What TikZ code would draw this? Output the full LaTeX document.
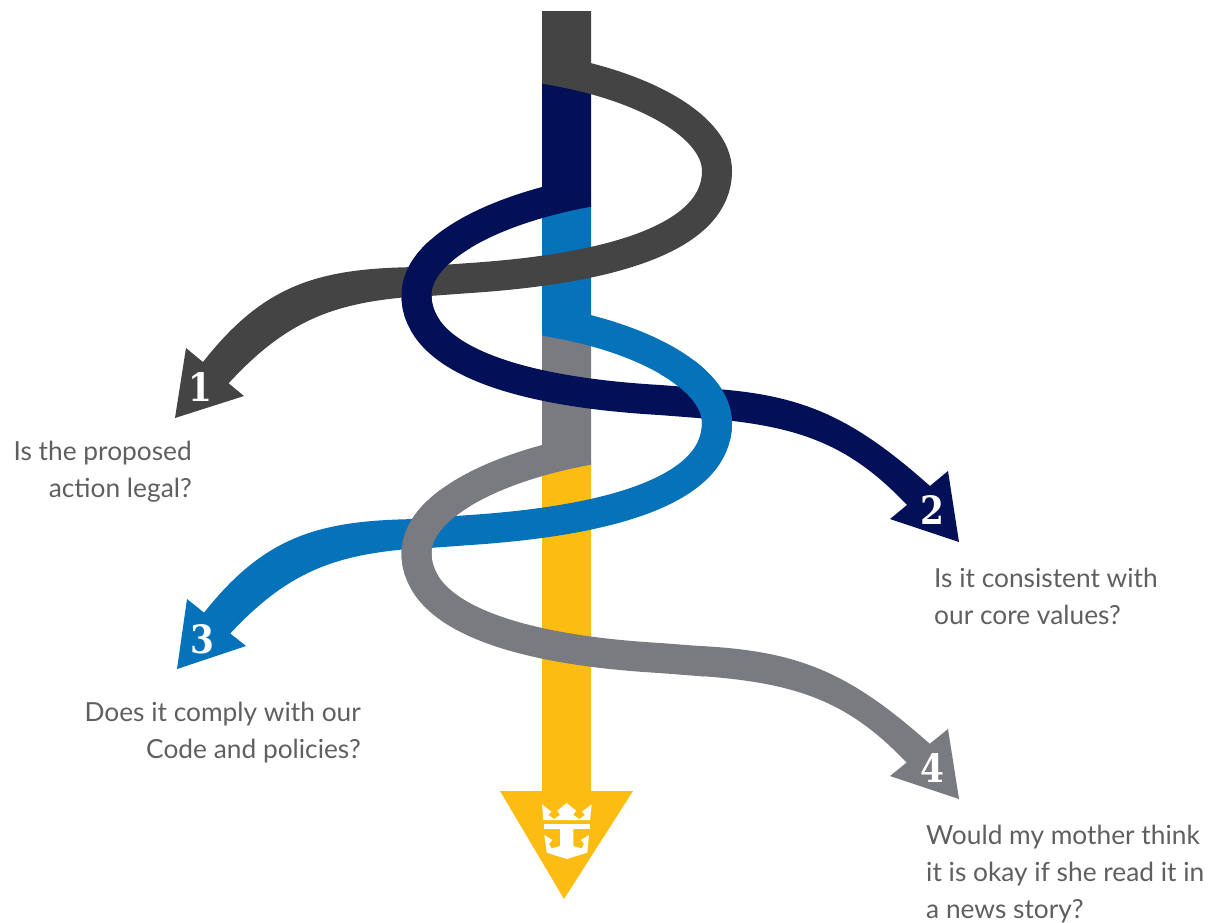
\documentclass[tikz,border=0pt]{standalone}
\usepackage{fontspec}
\usepackage{tikz}
\setmainfont{Lato}
\newfontfamily\numfont[FakeStretch=0.88]{DejaVu Serif}
\definecolor{cdark}{HTML}{444444}
\definecolor{cnavy}{HTML}{021157}
\definecolor{cblue}{HTML}{0572BA}
\definecolor{cgray}{HTML}{7A7B80}
\definecolor{cgold}{HTML}{FDBC11}
\definecolor{ctext}{HTML}{5E5F61}
\newcommand{\ribA}{(545,69) .. controls (640,84) and (717,125) .. (717,171)
    .. controls (717,235) and (620,268) .. (470,278) -- (415,282)}
\newcommand{\tailA}{(420,267) .. controls (320,268) and (265,283) .. (203,362)
    -- (190,375) -- (215,397) -- (228,384) .. controls (290,316) and (340,302) .. (420,296) -- cycle}
\newcommand{\ribB}{(588,192) .. controls (490,210) and (416.5,250) .. (416.5,295)
    .. controls (416.5,360) and (520,392) .. (660,400) -- (705,403.5)}
\newcommand{\tailB}{(700,388) .. controls (800,393) and (850,415) .. (930,486)
    -- (945,500) -- (925,525) -- (907,505) .. controls (850,445) and (800,425) .. (700,418) -- cycle}
\begin{document}
\begin{tikzpicture}[x=1pt,y=-1pt,
        rib/.style={line width=30pt},
        num/.style={text=white, inner sep=0pt, font=\numfont\bfseries\fontsize{39}{39}\selectfont},
        ask/.style={text=ctext, inner sep=0pt, font=\fontsize{26.3}{37}\selectfont}]
    \useasboundingbox (0,0) rectangle (1217,922);
    \fill[cgold] (542,460) -- (591,460) -- (591,791) -- (633,791) -- (564,899)
        -- (500,791) -- (542,791) -- cycle;
    \fill[cgray] (542,330) -- (591,330) -- (591,465) -- (542,458) -- cycle;
    \draw[rib,cgray,shift={(0,258)}] \ribB;
    \fill[cgray,shift={(0,258)}] \tailB;
    \fill[cgray] (890,776) -- (948,729) -- (959,799) -- cycle;
    \fill[cblue] (542,205) -- (591,205) -- (591,330) -- (542,335) -- cycle;
    \draw[rib,cblue,shift={(0,252)}] \ribA;
    \fill[cblue,shift={(0,252)}] \tailA;
    \fill[cblue] (246,646) -- (187,599) -- (177,669) -- cycle;
    \begin{scope}
        \clip (390,490) rectangle (470,575);
        \draw[rib,cgray,shift={(0,258)}] \ribB;
    \end{scope}
    \fill[cnavy] (542,80) -- (591,80) -- (591,207) -- (542,200) -- cycle;
    \draw[rib,cnavy] \ribB;
    \fill[cnavy] \tailB;
    \fill[cnavy] (890,519) -- (948,471) -- (959,542) -- cycle;
    \begin{scope}
        \clip (660,360) rectangle (745,440);
        \draw[rib,cblue,shift={(0,252)}] \ribA;
    \end{scope}
    \fill[cdark] (542,11) -- (591,11) -- (591,78) -- (542,83) -- cycle;
    \draw[rib,cdark] \ribA;
    \fill[cdark] \tailA;
    \fill[cdark] (244,396) -- (186,348) -- (175,418) -- cycle;
    \begin{scope}
        \clip (390,240) rectangle (470,320);
        \draw[rib,cnavy] \ribB;
    \end{scope}
    \begin{scope}[shift={(480,770)},x=0.3333pt,y=-0.3333pt]
        \fill[white] (186,103) -- (214,125) -- (205,135) -- (222,147) -- (240,135)
            -- (232,122) -- (260,99) -- (288,122) -- (280,135) -- (298,147)
            -- (315,135) -- (306,125) -- (335,103) -- (330,150) -- (190,150) -- cycle;
        \fill[white] (192,163) rectangle (330,177);
        \fill[white] (240,177) -- (280,177) -- (280,228) -- (305,235) -- (312,222)
            -- (303,210) -- (327,195) -- (322,248) -- (260,267) -- (200,248)
            -- (193,195) -- (217,210) -- (207,222) -- (215,235) -- (240,228) -- cycle;
    \end{scope}
    \node[num] (n1) at (200,387) {1};
    \node[num] (n2) at (932,510) {2};
    \node[num] (n3) at (202,639) {3};
    \node[num] (n4) at (932,768) {4};
    \node[ask,anchor=north east,align=right] (q1) at (192,441) {Is the proposed\\action legal?};
    \node[ask,anchor=north west,align=left] (q2) at (934,568) {Is it consistent with\\our core values?};
    \node[ask,anchor=north east,align=right] (q3) at (361,702) {Does it comply with our\\Code and policies?};
    \node[ask,anchor=north west,align=left] (q4) at (926,825) {Would my mother think\\it is okay if she read it in\\a news story?};
\end{tikzpicture}
\end{document}
